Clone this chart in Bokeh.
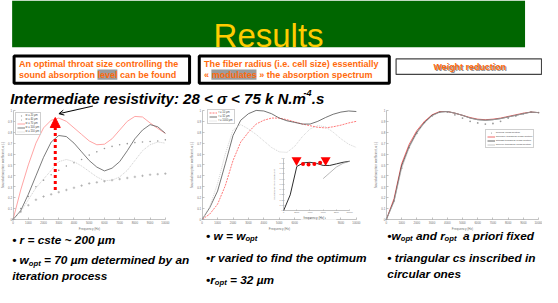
from bokeh.plotting import figure
from bokeh.models import (Range1d, LinearAxis, FixedTicker, NumeralTickFormatter,
                          Legend, LegendItem, Arrow, NormalHead, OpenHead)
from bokeh.core.properties import value
from bokeh.embed import file_html
from bokeh.resources import INLINE

# ---------------- data ----------------
freq = [0, 500, 1000, 1500, 2000, 2500, 3000, 3500, 4000, 4500, 5000,
        5500, 6000, 6500, 7000, 7500, 8000, 8500, 9000, 9500, 10000]

# panel 1 : throat size w (r = 200 um)
w20 = [0, 0.07, 0.13, 0.18, 0.21, 0.23, 0.25, 0.27, 0.29, 0.31, 0.33,
       0.34, 0.35, 0.36, 0.37, 0.38, 0.39, 0.40, 0.41, 0.415, 0.42]
w40 = [0, 0.10, 0.21, 0.30, 0.36, 0.41, 0.45, 0.49, 0.52, 0.55, 0.59,
       0.62, 0.65, 0.67, 0.685, 0.695, 0.705, 0.71, 0.715, 0.72, 0.73]
w70 = [0, 0.27, 0.50, 0.70, 0.84, 0.91, 0.93, 0.90, 0.84, 0.78, 0.72,
       0.685, 0.69, 0.74, 0.82, 0.90, 0.945, 0.94, 0.885, 0.835, 0.79]
w100 = [0, 0.08, 0.23, 0.40, 0.57, 0.71, 0.77, 0.76, 0.70, 0.62, 0.54,
        0.48, 0.445, 0.47, 0.53, 0.63, 0.74, 0.82, 0.87, 0.85, 0.79]
w150 = [0, 0.07, 0.18, 0.29, 0.37, 0.45, 0.53, 0.55, 0.53, 0.49, 0.44,
        0.39, 0.355, 0.36, 0.39, 0.45, 0.54, 0.63, 0.685, 0.71, 0.70]
w_labels = ["w = 20 µm", "w = 40 µm", "w = 70 µm", "w = 100 µm", "w = 150 µm"]

# panel 2 : fibre radius r (w = w_opt)
r10 = [0, 0.05, 0.14, 0.31, 0.54, 0.71, 0.80, 0.875, 0.91, 0.93, 0.93,
       0.915, 0.895, 0.875, 0.86, 0.845, 0.84, 0.85, 0.865, 0.885, 0.90]
r32 = [0, 0.11, 0.26, 0.51, 0.77, 0.91, 0.97, 1.0, 0.995, 0.97, 0.93,
       0.905, 0.89, 0.875, 0.875, 0.90, 0.935, 0.965, 0.985, 0.995, 0.99]
r1000 = [0, 0.12, 0.33, 0.60, 0.82, 0.87, 0.83, 0.78, 0.72, 0.66, 0.62,
         0.615, 0.67, 0.76, 0.83, 0.86, 0.85, 0.80, 0.74, 0.69, 0.66]
r_labels = ["r = 10 µm", "r = 32 µm", "r = 1000 µm"]

# panel 2 inset
inset_freq = [0, 1000, 2000, 3000, 4000, 5000, 6000, 7000, 8000, 9000, 10000]
inset_r32 = [0, 0.30, 0.84, 0.91, 0.92, 0.90, 0.86, 0.86, 0.89, 0.92, 0.94]
inset_freq_b = [6000, 7000, 8000, 9000, 10000]
inset_r1000 = [0.61, 0.72, 0.83, 0.90, 0.94]
plateau_edge_freq = [1960, 6370]
plateau_edge_alpha = [0.96, 0.96]
plateau_freq = [2940, 3780, 4660, 5540]
plateau_alpha = [0.89, 0.88, 0.89, 0.91]

# panel 3 : cross-section shapes
circ = [0, 0.17, 0.47, 0.66, 0.79, 0.89, 0.95, 0.985, 0.985, 0.96, 0.93,
        0.90, 0.885, 0.875, 0.88, 0.90, 0.93, 0.95, 0.97, 0.985, 0.98]
concave = [0, 0.19, 0.51, 0.69, 0.815, 0.90, 0.96, 0.99, 0.99, 0.975, 0.955,
           0.935, 0.92, 0.915, 0.92, 0.93, 0.945, 0.96, 0.975, 0.985, 0.98]
straight = [0, 0.17, 0.49, 0.67, 0.80, 0.89, 0.955, 0.985, 0.99, 0.975, 0.955,
            0.93, 0.915, 0.91, 0.915, 0.925, 0.94, 0.955, 0.97, 0.985, 0.98]
convex = [0, 0.16, 0.47, 0.66, 0.79, 0.885, 0.95, 0.985, 0.99, 0.975, 0.955,
          0.93, 0.915, 0.91, 0.915, 0.925, 0.94, 0.955, 0.97, 0.985, 0.98]
cs_labels = ["Circular cross-section", "Concave triangular cross-section",
             "Straight triangular cross-section", "Convex triangular cross-section"]

# annotation arrows (panel 1)
opt_arrow_freq = [2770, 2770]
opt_arrow_alpha = [0.27, 0.935]
note_arrow_freq = [5240, 3010]
note_arrow_alpha = [1.04, 0.97]

freq_ticks = [0, 1000, 2000, 3000, 4000, 5000, 6000, 7000, 8000, 9000, 10000]
inset_freq_ticks = [0, 2000, 4000, 6000, 8000, 10000]
alpha_ticks = [0, 0.1, 0.2, 0.3, 0.4, 0.5, 0.6, 0.7, 0.8, 0.9, 1]

# ---------------- figure (slide coordinates, scaled into the page) ----------------
FONT = "Liberation Sans"
ORANGE = "#ff6a0d"
W, H = 542, 287
X0, X1, Y0, Y1 = -2, 557, 3, 298          # slide area shown
SX, SY = W / (X1 - X0), H / (Y1 - Y0)
S = 0.97  # font scale

p = figure(width=W, height=H, x_range=Range1d(X0, X1), y_range=Range1d(Y1, Y0),
           x_axis_type=None, y_axis_type=None, toolbar_location=None,
           output_backend="svg", min_border=0)
p.outline_line_color = None
p.background_fill_color = "white"
p.border_fill_color = "white"


def rng(p0, p1, v0, v1, lo, hi):
    k = (v1 - v0) / (p1 - p0)
    return Range1d(start=v0 + (lo - p0) * k, end=v0 + (hi - p0) * k)


PANELS = {
    "c1": (11, 168, 228, 116),
    "c2": (206, 365, 228, 116),
    "c3": (396, 553, 228, 116),
    "in": (290, 358, 219, 165),
}
xr, yr = {}, {}
for k, (x0, x1, y0, y1) in PANELS.items():
    xr[k + "x"] = rng(x0, x1, 0, 10000, X0, X1)
    yr[k + "y"] = rng(y0, y1, 0, 1, Y1, Y0)
p.extra_x_ranges = xr
p.extra_y_ranges = yr


def fs(size):
    return f"{round(size * S, 2)}px"


def txt(x, y, s, size, color="black", style="bold italic", align="left",
        baseline="middle", level="glyph", **kw):
    r = p.text(x=[x], y=[y], text=[s], text_font=value(FONT), text_font_size=fs(size),
               text_font_style=style, text_color=color, text_align=align,
               text_baseline=baseline, **kw)
    r.level = level
    return r


def axes(name, xticks, xlabel, ylabel, f, lf, tick_in=2):
    common = dict(x_range_name=name + "x", y_range_name=name + "y",
                  axis_line_color="#9a9a9a", axis_line_width=0.6,
                  major_tick_line_color="#9a9a9a", major_tick_line_width=0.6,
                  major_tick_in=tick_in, major_tick_out=0, minor_tick_line_color=None,
                  major_label_text_font=FONT, major_label_text_font_size=fs(f),
                  major_label_text_color="#707070", major_label_standoff=1,
                  axis_label_text_font=FONT, axis_label_text_font_size=fs(lf),
                  axis_label_text_font_style="normal", axis_label_text_color="#707070",
                  axis_label_standoff=1)
    xa = LinearAxis(fixed_location=0, bounds=(0, 10000), ticker=FixedTicker(ticks=xticks),
                    axis_label=xlabel, **common)
    ya = LinearAxis(fixed_location=0, bounds=(0, 1), ticker=FixedTicker(ticks=alpha_ticks),
                    formatter=NumeralTickFormatter(format="0.[0]"), axis_label=ylabel, **common)
    p.add_layout(xa, "below")
    p.add_layout(ya, "left")


def legend(items, left, bottom, f, gw=8):
    leg = Legend(items=[LegendItem(label=l, renderers=[r]) for l, r in items],
                 location=((left - X0) * SX, (Y1 - bottom) * SY),
                 label_text_font=FONT, label_text_font_size=fs(f),
                 label_text_color="#444444", label_height=3, label_width=4,
                 glyph_height=3, glyph_width=gw, label_standoff=1, spacing=1,
                 padding=1, margin=0, border_line_color="#a0a0a0",
                 border_line_width=0.5, background_fill_color="white")
    p.add_layout(leg)


# ---- title bar and boxes ----
p.quad(left=10, right=539, top=3, bottom=51, fill_color="#006600", line_color=None)
txt(274.5, 39, "Results", 34, color="#ffcc00", style="normal", align="center",
    baseline="alphabetic")

p.quad(left=12, right=193, top=60, bottom=88, fill_color="white", line_color="black",
       line_width=3)
p.quad(left=98, right=118.5, top=74, bottom=84.5, fill_color="#9c9c9c", line_color=None)
txt(17, 68.5, "An optimal throat size controlling the", 9.3, ORANGE, "bold")
txt(17, 79.5, "sound absorption level can be found", 9.3, ORANGE, "bold")

p.quad(left=203, right=399, top=60, bottom=88, fill_color="white", line_color="black",
       line_width=3)
p.quad(left=215.5, right=262, top=74, bottom=84.5, fill_color="#9c9c9c", line_color=None)
txt(208, 68.5, "The fiber radius (i.e. cell size) essentially", 9.3, ORANGE, "bold")
txt(208, 79.5, "« modulates » the absorption spectrum", 9.3, ORANGE, "bold")

p.quad(left=406, right=556, top=63, bottom=79, fill_color="white", line_color="#444444",
       line_width=1.2)
txt(483, 72, "Weight reduction", 9.2, "#8f8f8f", "bold", align="center")
txt(482, 71, "Weight reduction", 9.2, ORANGE, "bold", align="center")

# heading
txt(8, 104, "Intermediate resistivity: 28 < σ < 75 k N.m", 15.5, baseline="alphabetic")
txt(310.5, 98, "-4", 9.3, baseline="alphabetic")
txt(319, 104, ".s", 15.5, baseline="alphabetic")

# ---- panel 1 ----
kw1 = dict(x_range_name="c1x", y_range_name="c1y")
axes("c1", freq_ticks, "Frequency (Hz)", "Sound absorption coefficient, α (-)", 3, 3.2)
ra = p.scatter(freq, w20, marker="cross", size=2.5, line_color="#9a9a9a", line_width=0.6, **kw1)
rb = p.scatter(freq, w40, marker="circle", size=1.6, fill_color="#9a9a9a", line_color=None, **kw1)
rc = p.line(freq, w70, line_color="#ff9a9a", line_width=0.9, **kw1)
rd = p.line(freq, w100, line_color="#5a5a5a", line_width=0.8, **kw1)
re = p.line(freq, w150, line_color="#c2c2c2", line_width=0.8, line_dash="1 1", **kw1)
legend(list(zip(w_labels, [ra, rb, rc, rd, re])), 13, 142, 2.7)
p.add_layout(Arrow(x_start=opt_arrow_freq[0], y_start=opt_arrow_alpha[0],
                   x_end=opt_arrow_freq[1], y_end=opt_arrow_alpha[1],
                   line_color="#ff0000", line_width=3, line_dash="3 3",
                   end=NormalHead(size=10, fill_color="#ff0000", line_color="#ff0000"),
                   **kw1))
p.add_layout(Arrow(x_start=note_arrow_freq[0], y_start=note_arrow_alpha[0],
                   x_end=note_arrow_freq[1], y_end=note_arrow_alpha[1],
                   line_color="black", line_width=1,
                   end=OpenHead(size=5, line_color="black", line_width=1), **kw1))

# ---- panel 2 ----
kw2 = dict(x_range_name="c2x", y_range_name="c2y")
axes("c2", freq_ticks, "Frequency (Hz)", "Sound absorption coefficient, α (-)", 3, 3.2)
sa = p.line(freq, r10, line_color="#ff6a6a", line_width=0.9, line_dash="2 1", **kw2)
sb = p.line(freq, r32, line_color="#505050", line_width=0.8, **kw2)
sc = p.line(freq, r1000, line_color="#c8c8c8", line_width=0.8, line_dash="1 1", **kw2)
legend(list(zip(r_labels, [sa, sb, sc])), 212, 130, 2.7)

# inset
kwi = dict(x_range_name="inx", y_range_name="iny")
axes("in", inset_freq_ticks, "", "Sound absorption coefficient", 2.3, 2.5, tick_in=1)
cover = p.quad(left=[2600], right=[8000], top=[-0.165], bottom=[-0.27],
               fill_color="white", line_color=None, **kwi)
cover.level = "overlay"
txt(4600, -0.13, "frequency (Hz)", 3.3, "#555555", "normal", align="center",
    level="overlay", **kwi)
p.line(inset_freq, inset_r32, line_color="#2e2e2e", line_width=1.0, **kwi)
p.line(inset_freq_b, inset_r1000, line_color="#9a9a9a", line_width=0.7, **kwi)
p.scatter(plateau_freq, plateau_alpha, marker="circle", size=4,
          fill_color="#ff0000", line_color=None, **kwi)
p.scatter(plateau_edge_freq, plateau_edge_alpha, marker="inverted_triangle", size=10,
          fill_color="#ff0000", line_color=None, **kwi)

# ---- panel 3 ----
kw3 = dict(x_range_name="c3x", y_range_name="c3y")
axes("c3", freq_ticks, "Frequency (Hz)", "Sound absorption coefficient, α (-)", 3, 3.2)
ta = p.scatter(freq, circ, marker="circle", size=1.8, fill_color="#9a9a9a", line_color=None, **kw3)
tb = p.line(freq, concave, line_color="#ec5a5a", line_width=0.9, **kw3)
tc = p.line(freq, straight, line_color="#3a3a3a", line_width=0.8, **kw3)
td = p.line(freq, convex, line_color="#b0b0b0", line_width=0.7, **kw3)
legend(list(zip(cs_labels, [ta, tb, tc, td])), 498, 155, 2.6)

# ---- bullet texts ----
FS, SUB = 12.2, 7.9
txt(10, 249, "• r = cste ~ 200 µm", FS)
txt(10, 270, "• w", FS)
txt(27.2, 273, "opt", SUB)
txt(42.9, 270, "= 70 µm determined by an", FS)
txt(10, 286, "iteration process", FS)

txt(210, 245, "• w = w", FS)
txt(250.6, 248, "opt", SUB)
txt(210, 268, "•r varied to find the optimum", FS)
txt(210, 290, "•r", FS)
txt(219, 293, "opt", SUB)
txt(234.7, 290, "= 32 µm", FS)

txt(397, 245, "•w", FS)
txt(410.8, 248, "opt", SUB)
txt(426.5, 245, "and r", FS)
txt(456, 248, "opt", SUB)
txt(475, 245, "a priori fixed", FS)
txt(397, 268, "• triangular cs inscribed in", FS)
txt(397, 284, "circular ones", FS)

open("out.html", "w").write(file_html(p, INLINE))
